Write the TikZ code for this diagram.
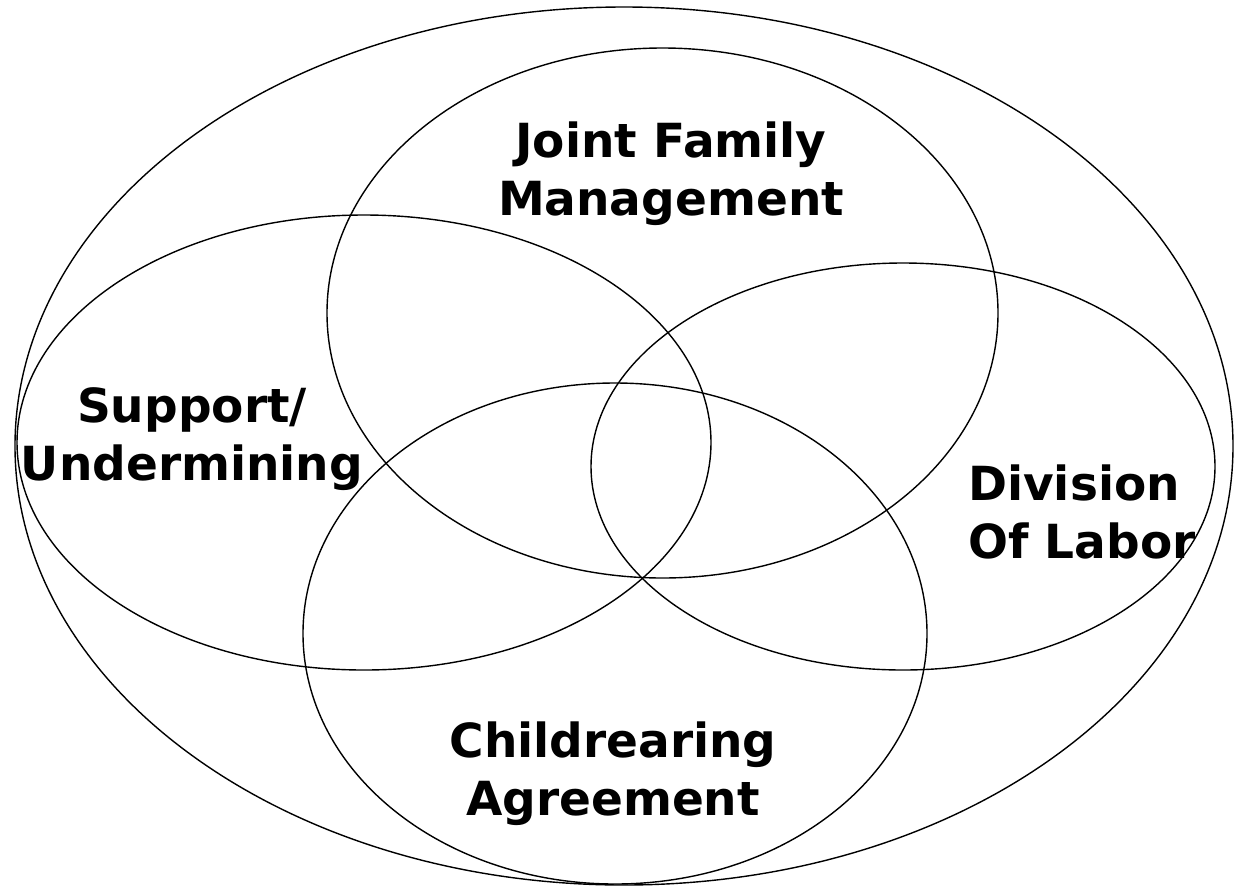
\documentclass[tikz,border=0pt]{standalone}
\usepackage{fontspec}
\setmainfont{DejaVu Sans}
\begin{document}
\begin{tikzpicture}[x=1pt,y=-1pt,
  ring/.style={draw=black,line width=1.4pt},
  lbl/.style={font=\fontsize{47}{58}\selectfont\bfseries,align=center,inner sep=0pt,anchor=base}]
\useasboundingbox (0,0) rectangle (1234,887);
\draw[ring] (624,446) ellipse [x radius=609,y radius=439];
\draw[ring] (662.5,313) ellipse [x radius=335.5,y radius=265];
\draw[ring] (364,442.5) ellipse [x radius=347,y radius=227.5];
\draw[ring] (903,466.5) ellipse [x radius=312,y radius=203.5];
\draw[ring] (615,633.5) ellipse [x radius=312,y radius=250.5];
\node[lbl] (jfm) at (671,215) {Joint Family\\Management};
\node[lbl] (sup) at (192,480) {Support/\\Undermining};
\node[lbl,align=left,anchor=base west] (dol) at (968,558) {Division\\Of Labor};
\node[lbl] (chr) at (613,815) {Childrearing\\Agreement};
\end{tikzpicture}
\end{document}
